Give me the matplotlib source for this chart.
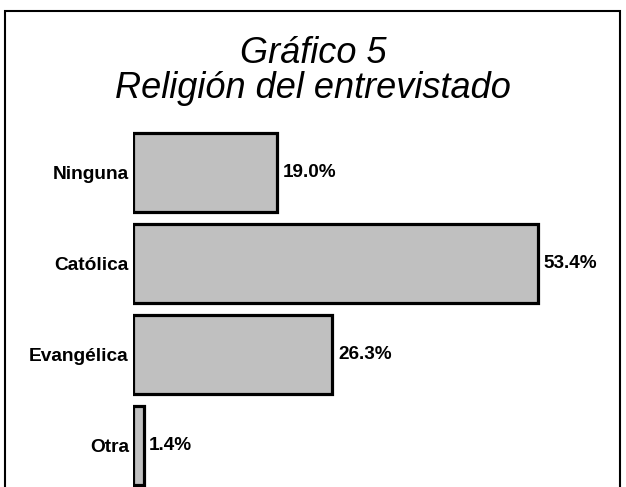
import matplotlib.pyplot as plt
from matplotlib.patches import Rectangle

categories = ['Ninguna', 'Católica', 'Evangélica', 'Otra']
values = [19.0, 53.4, 26.3, 1.4]
value_labels = ['19.0%', '53.4%', '26.3%', '1.4%']

plt.rcParams['font.family'] = ['Liberation Sans', 'DejaVu Sans']

W, H = 626, 487
fig = plt.figure(figsize=(W / 100, H / 100), dpi=100)

# frame around the whole figure (bottom edge is cut off)
fig.patches.append(Rectangle((5 / W, -0.05), 615 / W, 1.05 - 11 / H,
                             transform=fig.transFigure, fill=False,
                             edgecolor='black', linewidth=1.5))

fig.text(0.5, 1 - 63 / H, 'Gráfico 5', ha='center', va='baseline',
         fontsize=26, style='italic')
fig.text(0.5, 1 - 98 / H, 'Religión del entrevistado', ha='center', va='baseline',
         fontsize=26, style='italic')

ax_left, ax_right = 133, 600
ax_top, ax_bottom = 127, 487
ax = fig.add_axes([ax_left / W, 1 - ax_bottom / H,
                   (ax_right - ax_left) / W, (ax_bottom - ax_top) / H])

px_per_unit = 7.58
pitch = 91
ypos = range(len(categories))
ax.barh(ypos, values, height=0.87, color='#c0c0c0', edgecolor='black',
        linewidth=2.3)
ax.set_xlim(0, (ax_right - ax_left) / px_per_unit)
ax.set_ylim(-0.5 + (ax_bottom - ax_top) / pitch, -0.5)

for y, v, lab in zip(ypos, values, value_labels):
    ax.annotate(lab, (v, y), xytext=(4, 0), textcoords='offset points',
                ha='left', va='center', fontsize=13.6, fontweight='bold')

ax.set_yticks(list(ypos))
ax.set_yticklabels(categories, fontsize=13.8, fontweight='bold')
ax.tick_params(axis='y', length=0, pad=3)
ax.set_xticks([])
for s in ax.spines.values():
    s.set_visible(False)

fig.savefig('out.png', dpi=100)
